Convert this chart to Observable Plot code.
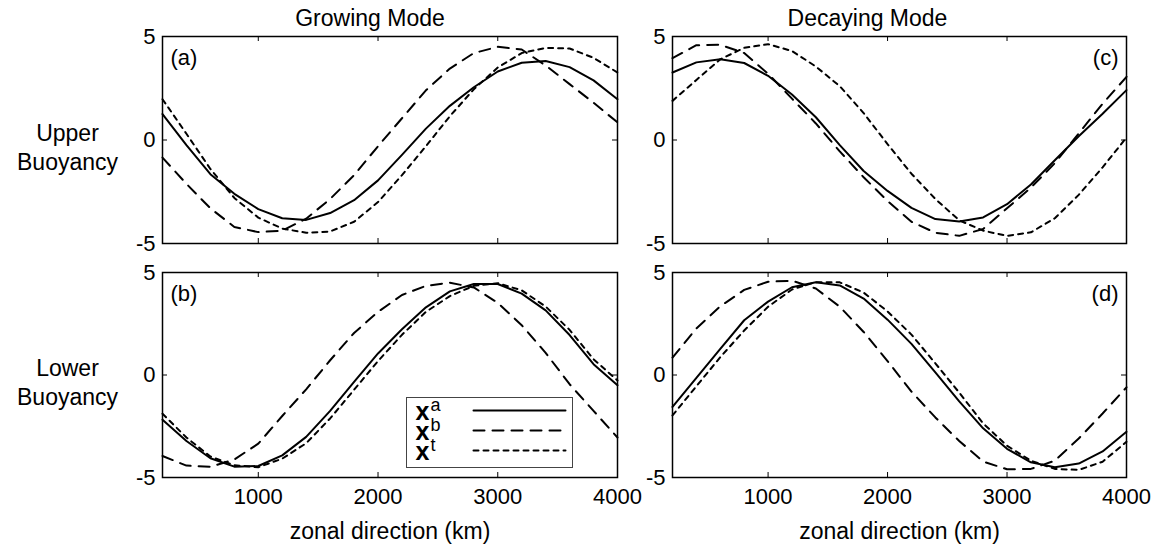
<!DOCTYPE html>
<html><head><meta charset="utf-8">
<script src="https://cdn.jsdelivr.net/npm/d3@7"></script>
<script src="https://cdn.jsdelivr.net/npm/@observablehq/plot@0.6"></script>
<style>
body{margin:0;background:#fff;}
#fig{position:relative;width:1164px;height:544px;overflow:hidden;font-family:"Liberation Sans",Arial,sans-serif;background:#fff;}
#fig svg{position:absolute;overflow:visible;background:transparent;}
</style></head><body><div id="fig"></div>
<script>
// ---- data ----
const km = [200,400,600,800,1000,1200,1400,1600,1800,2000,2200,2400,2600,2800,3000,3200,3400,3600,3800,4000];
const xTicks = [1000,2000,3000,4000];
const yTicks = [-5,0,5];
const yTickLabels = ["-5","0","5"];
const seriesKeys = ["a","b","t"];
const seriesDash = ["none","11,8","5,5"];

// Growing mode, upper buoyancy (a)
const growUpperA = [1.25,-0.25,-1.65,-2.6,-3.34,-3.78,-3.86,-3.53,-2.91,-1.95,-0.72,0.55,1.65,2.55,3.31,3.73,3.82,3.52,2.88,1.97];
const growUpperB = [-0.85,-2.12,-3.3,-4.2,-4.45,-4.38,-3.8,-2.85,-1.7,-0.3,1.05,2.4,3.45,4.2,4.5,4.37,3.6,2.7,1.8,0.85];
const growUpperT = [1.97,0.3,-1.4,-2.8,-3.75,-4.28,-4.48,-4.42,-3.95,-3.0,-1.7,-0.3,1.15,2.45,3.5,4.2,4.45,4.42,3.97,3.26];
// Growing mode, lower buoyancy (b)
const growLowerA = [-2.18,-3.22,-4.06,-4.47,-4.44,-3.92,-3.02,-1.75,-0.33,1.05,2.23,3.3,4.08,4.44,4.44,3.97,3.15,1.95,0.53,-0.5];
const growLowerB = [-3.95,-4.42,-4.48,-4.12,-3.35,-2.0,-0.7,0.72,2.05,3.08,3.9,4.35,4.5,4.27,3.52,2.43,1.08,-0.45,-1.75,-3.05];
const growLowerT = [-1.89,-3.05,-3.98,-4.4,-4.5,-4.08,-3.33,-2.12,-0.72,0.68,1.96,3.08,3.85,4.35,4.48,4.13,3.34,2.2,0.77,-0.27];
// Decaying mode, upper buoyancy (c)
const decayUpperA = [3.26,3.75,3.9,3.72,3.1,2.2,1.1,-0.25,-1.5,-2.46,-3.28,-3.82,-3.94,-3.74,-3.1,-2.15,-0.98,0.18,1.27,2.41];
const decayUpperB = [3.95,4.58,4.6,4.2,3.2,2.0,0.8,-0.55,-1.8,-2.95,-3.95,-4.48,-4.63,-4.3,-3.3,-2.3,-1.12,0.32,1.75,3.05];
const decayUpperT = [1.89,2.9,3.9,4.45,4.63,4.3,3.55,2.6,1.3,-0.2,-1.63,-2.85,-3.88,-4.38,-4.63,-4.46,-3.78,-2.65,-1.32,0.12];
// Decaying mode, lower buoyancy (d)
const decayLowerA = [-1.56,-0.14,1.28,2.67,3.58,4.28,4.52,4.37,3.73,2.7,1.52,0.13,-1.29,-2.6,-3.6,-4.26,-4.5,-4.32,-3.73,-2.77];
const decayLowerB = [0.85,2.27,3.35,4.15,4.55,4.6,4.22,3.33,2.1,0.68,-0.81,-2.07,-3.22,-4.22,-4.6,-4.58,-4.18,-3.1,-1.88,-0.6];
const decayLowerT = [-1.97,-0.55,0.87,2.17,3.33,4.17,4.53,4.52,4.02,3.1,1.97,0.57,-0.86,-2.36,-3.45,-4.18,-4.58,-4.63,-4.23,-3.26];

const colTitles = ["Growing Mode","Decaying Mode"];
const rowLabels = ["Upper\nBuoyancy","Lower\nBuoyancy"];
const panelLabels = ["(a)","(b)","(c)","(d)"];
const xLabel = "zonal direction (km)";
const legendLabels = ["a","b","t"];
const legendSymbol = "x";

// ---- layout ----
const fig = document.getElementById("fig");
const FONT = "Liberation Sans, Arial, sans-serif";

const panels = [
  {vals:[growUpperA,growUpperB,growUpperT], label:panelLabels[0], col:0, row:0},
  {vals:[growLowerA,growLowerB,growLowerT], label:panelLabels[1], col:0, row:1},
  {vals:[decayUpperA,decayUpperB,decayUpperT], label:panelLabels[2], col:1, row:0},
  {vals:[decayLowerA,decayLowerB,decayLowerT], label:panelLabels[3], col:1, row:1}
];
const colBox = [{left:0,width:640,ml:162,mr:23},{left:640,width:524,ml:32,mr:38}];
const rowBox = [{top:0,height:258,mt:36,mb:15},{top:258,height:286,mt:14,mb:67}];

for (const p of panels) {
  const c = colBox[p.col], r = rowBox[p.row];
  const fw = c.width - c.ml - c.mr, fh = r.height - r.mt - r.mb;
  const data = [];
  seriesKeys.forEach((s,i) => km.forEach((x,j) => data.push({x, y:p.vals[i][j], s})));
  const marks = [];
  seriesKeys.forEach((s,i) => {
    marks.push(Plot.line(data.filter(d => d.s === s), {x:"x", y:"y", stroke:"black", strokeWidth:2,
      strokeDasharray: seriesDash[i] === "none" ? null : seriesDash[i]}));
  });
  marks.push(
    Plot.frame({stroke:"black", strokeWidth:1.5}),
    Plot.ruleX(xTicks.slice(0,3), {x:d=>d, insetTop: fh-5, stroke:"black", strokeWidth:1}),
    Plot.ruleX(xTicks.slice(0,3), {x:d=>d, insetBottom: fh-5, stroke:"black", strokeWidth:1}),
    Plot.ruleY([0], {y:d=>d, insetRight: fw-5, stroke:"black", strokeWidth:1}),
    Plot.ruleY([0], {y:d=>d, insetLeft: fw-5, stroke:"black", strokeWidth:1}),
    Plot.axisY(yTicks, {anchor:"left", tickSize:0, tickPadding:7, fontSize:22, fill:"black",
      tickFormat: d => yTickLabels[yTicks.indexOf(d)], label:null}),
    Plot.text([p.label], {frameAnchor: p.col === 0 ? "top-left" : "top-right", dx: p.col === 0 ? 8 : -8, dy: 13,
      textAnchor: p.col === 0 ? "start" : "end", lineAnchor:"top", fontSize:22, fill:"black"})
  );
  if (p.row === 1) {
    marks.push(
      Plot.axisX(xTicks, {anchor:"bottom", tickSize:0, tickPadding:11, fontSize:22, fill:"black",
        tickFormat: d => String(d), label:null}),
      Plot.text([xLabel], {frameAnchor:"bottom", dy:61, lineAnchor:"bottom", textAnchor:"middle", fontSize:23, fill:"black"})
    );
  } else {
    marks.push(Plot.text([colTitles[p.col]], {frameAnchor:"top", dx: p.col === 0 ? -20 : -32, dy:-11,
      lineAnchor:"bottom", textAnchor:"middle", fontSize:23, fill:"black"}));
  }
  if (p.col === 0) {
    marks.push(Plot.text([rowLabels[p.row]], {frameAnchor:"left", dx:-95, dy:6.5, lineAnchor:"middle",
      textAnchor:"middle", lineHeight:1.24, fontSize:23, fill:"black"}));
  }
  const svg = Plot.plot({
    width:c.width, height:r.height,
    marginLeft:c.ml, marginRight:c.mr, marginTop:r.mt, marginBottom:r.mb,
    style:{fontFamily:FONT, fontSize:"22px", background:"transparent", overflow:"visible", color:"black"},
    x:{domain:[200,4000], axis:null},
    y:{domain:[-5,5], axis:null},
    marks
  });
  svg.style.left = c.left + "px";
  svg.style.top = r.top + "px";
  fig.appendChild(svg);
}

// ---- legend (inside panel b) ----
const legendData = [];
seriesKeys.forEach(s => [0,1].forEach(x => legendData.push({x, s})));
const legendMarks = [Plot.frame({stroke:"#444", strokeWidth:1})];
seriesKeys.forEach((s,i) => {
  legendMarks.push(Plot.line(legendData.filter(d => d.s === s), {x:"x", y:"s", stroke:"black", strokeWidth:2,
    strokeDasharray: seriesDash[i] === "none" ? null : seriesDash[i]}));
});
legendMarks.push(
  Plot.text(seriesKeys, {x:()=>0, y:d=>d, text:()=>legendSymbol, dx:-58, dy:1,
    lineAnchor:"middle", textAnchor:"start", fontSize:25, fontWeight:"bold", fill:"black"}),
  Plot.text(seriesKeys, {x:()=>0, y:d=>d, text:(d,i)=>legendLabels[i], dx:-43, dy:-5,
    lineAnchor:"middle", textAnchor:"start", fontSize:18, fill:"black"})
);
const legend = Plot.plot({
  width:166, height:70, margin:0,
  style:{fontFamily:FONT, background:"white", overflow:"visible"},
  x:{domain:[0,1], range:[67,159], axis:null},
  y:{type:"point", domain:seriesKeys, range:[13,53], padding:0, axis:null},
  marks: legendMarks
});
legend.style.left = "406px";
legend.style.top = "397px";
fig.appendChild(legend);
</script></body></html>
